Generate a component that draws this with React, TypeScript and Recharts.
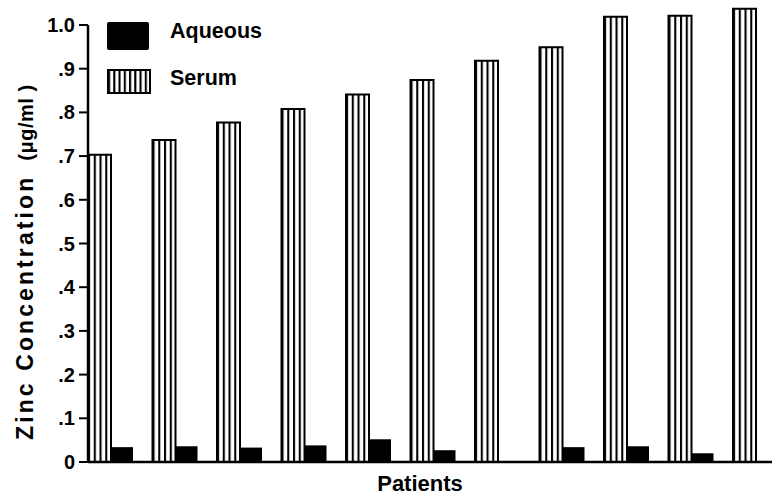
import React from 'react';
import { BarChart, Bar, XAxis, YAxis, ReferenceLine } from 'recharts';

const patients = ['P1', 'P2', 'P3', 'P4', 'P5', 'P6', 'P7', 'P8', 'P9', 'P10', 'P11'];
const serum = [0.703, 0.737, 0.777, 0.808, 0.841, 0.874, 0.918, 0.949, 1.019, 1.021, 1.037];
const aqueous = [0.034, 0.036, 0.033, 0.038, 0.052, 0.027, 0, 0.034, 0.036, 0.02, 0];
const yTicks = [0, 0.1, 0.2, 0.3, 0.4, 0.5, 0.6, 0.7, 0.8, 0.9, 1.0];
const yTickLabels = ['0', '.1', '.2', '.3', '.4', '.5', '.6', '.7', '.8', '.9', '1.0'];
const seriesNames = ['Aqueous', 'Serum'];
const xTitle = 'Patients';
const yTitle = 'Zinc Concentration';
const yUnit = '(\u03bcg/ml )';

const data = patients.map((p, i) => ({ patient: p, serum: serum[i], aqueous: aqueous[i] }));

const FONT = "'Liberation Sans', Arial, Helvetica, sans-serif";

const fmtY = (v: number) => {
  const idx = yTicks.findIndex((t) => Math.abs(t - v) < 1e-6);
  return idx >= 0 ? yTickLabels[idx] : String(v);
};

const YLabel = (props: any) => {
  const vb = props.viewBox || { x: 28, y: 8, width: 60, height: 454 };
  const x = vb.x + 5;
  const y = vb.y + vb.height - 22;
  return (
    <text
      x={x}
      y={y}
      transform={`rotate(-90 ${x} ${y})`}
      textAnchor="start"
      fontFamily={FONT}
      fontWeight="bold"
      fill="#000"
    >
      <tspan fontSize={23} letterSpacing={3.1}>{yTitle}</tspan>
      <tspan fontSize={20} letterSpacing={0.5} dx={14}>{yUnit}</tspan>
    </text>
  );
};

const XLabel = (props: any) => {
  const vb = props.viewBox || { x: 88, y: 462, width: 684, height: 33 };
  return (
    <text
      x={vb.x + vb.width / 2 - 10}
      y={vb.y + 29}
      textAnchor="middle"
      fontFamily={FONT}
      fontWeight="bold"
      fontSize={22}
      fill="#000"
    >
      {xTitle}
    </text>
  );
};

export default function App() {
  return (
    <div style={{ position: 'absolute', left: 0, top: 0, width: 772, height: 495, background: '#fff' }}>
      <BarChart
        width={772}
        height={495}
        data={data}
        margin={{ top: 7.5, right: 0, bottom: 0, left: 28 }}
        barGap={0}
      >
        <defs>
          <pattern id="serumStripes" patternUnits="objectBoundingBox" width="0.25" height="1" patternContentUnits="objectBoundingBox">
            <rect x="0" y="0" width="1" height="1" fill="#fff" />
            <rect x="0" y="0" width="0.09" height="1" fill="#000" />
          </pattern>
          <pattern id="legendStripes" patternUnits="objectBoundingBox" width="0.125" height="1" patternContentUnits="objectBoundingBox">
            <rect x="0" y="0" width="1" height="1" fill="#fff" />
            <rect x="0" y="0" width="0.05" height="1" fill="#000" />
          </pattern>
        </defs>
        <XAxis
          dataKey="patient"
          type="category"
          height={33}
          padding={{ left: -10, right: -15.5 }}
          tick={false}
          tickLine={false}
          axisLine={{ stroke: '#000', strokeWidth: 2.5 }}
          label={<XLabel />}
        />
        <XAxis xAxisId="n" type="number" domain={[0, 1]} hide />
        <YAxis
          type="number"
          domain={[0, 1.04]}
          ticks={yTicks}
          interval={0}
          width={60}
          axisLine={false}
          tickSize={9}
          tickMargin={4}
          tickLine={{ stroke: '#000', strokeWidth: 2 }}
          tickFormatter={fmtY}
          tick={{ fill: '#000', fontSize: 20, fontWeight: 'bold', fontFamily: FONT }}
          label={<YLabel />}
        />
        <ReferenceLine
          xAxisId="n"
          segment={[{ x: 0, y: 0 }, { x: 0, y: 1.0 }]}
          stroke="#000"
          strokeWidth={2.5}
        />
        <Bar
          dataKey="serum"
          name={seriesNames[1]}
          barSize={23}
          fill="url(#serumStripes)"
          stroke="#000"
          strokeWidth={2}
          isAnimationActive={false}
        />
        <Bar
          dataKey="aqueous"
          name={seriesNames[0]}
          barSize={22}
          fill="#000"
          isAnimationActive={false}
        />
        <g transform="translate(107,22)">
          <rect x={0} y={0} width={42} height={28} rx={2} fill="#000" />
          <text x={63} y={16} fontFamily={FONT} fontWeight="bold" fontSize={21.5} fill="#000">
            {seriesNames[0]}
          </text>
          <rect x={1} y={48} width={42} height={23} fill="url(#legendStripes)" stroke="#000" strokeWidth={2} />
          <text x={63} y={63} fontFamily={FONT} fontWeight="bold" fontSize={21.5} fill="#000">
            {seriesNames[1]}
          </text>
        </g>
      </BarChart>
    </div>
  );
}
